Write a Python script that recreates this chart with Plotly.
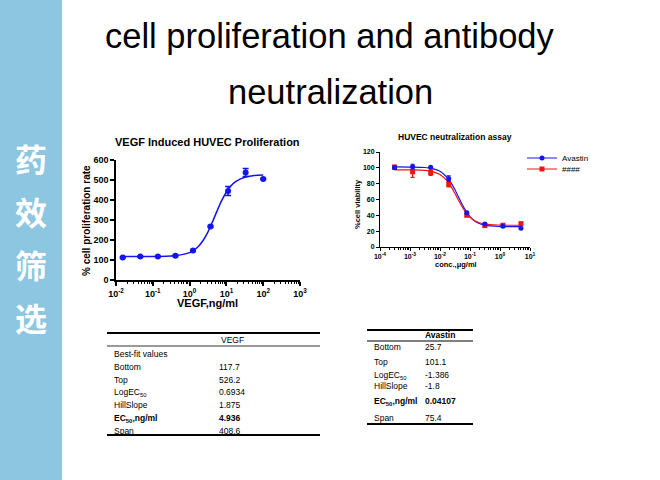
import plotly.graph_objects as go

W, H = 660, 480

# left chart: VEGF induced proliferation
vegf_conc = [100, 33.33, 11.11, 3.704, 1.235, 0.4115, 0.1372, 0.04572, 0.01524]
vegf_rate = [505, 538, 445, 268, 147, 121, 118, 117, 112]
vegf_err = [3, 20, 23, 4, 4, 3, 2, 2, 2]
vegf_fit_log = [-1.82, -1.0, -0.5, 0, 0.125, 0.25, 0.375, 0.5, 0.625, 0.75, 0.875,
                1.0, 1.125, 1.25, 1.5, 1.75, 2.0]
vegf_fit_rate = [118, 118, 120, 137, 150, 170, 200, 241, 292, 347, 398,
                 440, 471, 492, 514, 522, 525]

# right chart: neutralization assay
conc_ug = [5, 1.25, 0.3125, 0.07813, 0.01953, 0.004883, 0.001221, 0.0003052]
avastin = [23.6, 26.1, 29, 43.4, 86.3, 100.6, 101.5, 100.2]
avastin_err = [1, 1, 1.5, 1.5, 3.5, 1, 3, 1.5]
other = [29.5, 27.5, 27, 40, 79, 94, 95, 101]
other_err = [1.5, 1, 2, 1.5, 3, 3.5, 7, 2]
fit_log = [-3.5, -3, -2.5, -2.25, -2, -1.75, -1.625, -1.5, -1.375, -1.25,
           -1.125, -1, -0.875, -0.75, -0.5, 0, 0.7]
avastin_fit = [101.1, 101.0, 100.4, 99.0, 95.6, 87.5, 80.7, 72.2, 62.5, 53.0,
               44.8, 38.4, 33.8, 30.7, 27.6, 25.9, 25.7]
other_fit = [97.5, 97.4, 96.7, 95.2, 91.5, 82.8, 75.9, 67.5, 58.5, 50.0,
             42.9, 37.6, 33.9, 31.5, 29.0, 27.7, 27.5]

# tables
vegf_rows = ["Best-fit values", "Bottom", "Top", "LogEC<sub>50</sub>", "HillSlope",
             "<b>EC<sub>50</sub>,ng/ml</b>", "Span"]
vegf_vals = ["", "117.7", "526.2", "0.6934", "1.875", "<b>4.936</b>", "408.6"]
ava_rows = ["Bottom", "Top", "LogEC<sub>50</sub>", "HillSlope", "<b>EC<sub>50</sub>,ng/ml</b>", "Span"]
ava_vals = ["25.7", "101.1", "-1.386", "-1.8", "<b>0.04107</b>", "75.4"]

sidebar_chars = ["药", "效", "筛", "选"]

BLUE = "#1414F0"
RED = "#F01414"
SANS = "Liberation Sans, Arial"


def px(x, y):
    return x / W, 1 - y / H


fig = go.Figure()

# left chart
fig.add_trace(go.Scatter(x=[10 ** v for v in vegf_fit_log], y=vegf_fit_rate, mode="lines",
                         line=dict(color=BLUE, width=1.5, shape="spline"),
                         xaxis="x", yaxis="y", showlegend=False))
fig.add_trace(go.Scatter(x=vegf_conc, y=vegf_rate, mode="markers",
                         marker=dict(color=BLUE, size=6),
                         error_y=dict(array=vegf_err, color=BLUE, thickness=1.5, width=3),
                         xaxis="x", yaxis="y", showlegend=False))

# right chart
fig.add_trace(go.Scatter(x=[10 ** v for v in fit_log], y=avastin_fit, mode="lines",
                         line=dict(color=BLUE, width=1.2, shape="spline"),
                         xaxis="x2", yaxis="y2", showlegend=False))
fig.add_trace(go.Scatter(x=[10 ** v for v in fit_log], y=other_fit, mode="lines",
                         line=dict(color=RED, width=1.2, shape="spline"),
                         xaxis="x2", yaxis="y2", showlegend=False))
fig.add_trace(go.Scatter(x=conc_ug, y=other, mode="markers",
                         marker=dict(color=RED, size=5, symbol="square"),
                         error_y=dict(array=other_err, color=RED, thickness=1.2, width=2),
                         xaxis="x2", yaxis="y2", showlegend=False))
fig.add_trace(go.Scatter(x=conc_ug, y=avastin, mode="markers",
                         marker=dict(color=BLUE, size=5),
                         error_y=dict(array=avastin_err, color=BLUE, thickness=1.2, width=2),
                         xaxis="x2", yaxis="y2", showlegend=False))

# legend entries only (two legends so the rows sit close together)
fig.add_trace(go.Scatter(x=[None], y=[None], mode="lines+markers", name="Avastin",
                         line=dict(color=BLUE, width=1.2), marker=dict(color=BLUE, size=5),
                         xaxis="x2", yaxis="y2", legend="legend"))
fig.add_trace(go.Scatter(x=[None], y=[None], mode="lines+markers", name="####",
                         line=dict(color=RED, width=1.2),
                         marker=dict(color=RED, size=5, symbol="square"),
                         xaxis="x2", yaxis="y2", legend="legend2"))


def log_ticks(lo, hi):
    vals = [10.0 ** e for e in range(lo, hi + 1)]
    text = ["10<sup>%d</sup>" % e for e in range(lo, hi + 1)]
    minor = [k * 10.0 ** e for e in range(lo, hi) for k in range(2, 10)]
    return vals, text, minor


axis_common = dict(showline=True, linecolor="black", showgrid=False, zeroline=False,
                   ticks="outside", tickcolor="black", automargin=False)

xv, xt, xm = log_ticks(-2, 3)
fig.update_layout(
    xaxis=dict(axis_common, type="log", range=[-2, 3], domain=[116 / W, 300 / W],
               tickvals=xv, ticktext=xt, linewidth=1.5, tickwidth=1.5, ticklen=4,
               tickfont=dict(family=SANS, size=9, color="black", weight="bold"),
               minor=dict(tickvals=xm, ticks="outside", ticklen=2.5, tickwidth=1,
                          tickcolor="black"),
               anchor="y"),
    yaxis=dict(axis_common, range=[0, 600], dtick=100,
               domain=[1 - 280 / H, 1 - 160 / H], linewidth=1.5, tickwidth=1.5, ticklen=4,
               tickfont=dict(family=SANS, size=9, color="black", weight="bold"),
               anchor="x"),
)
xv2, xt2, xm2 = log_ticks(-4, 1)
fig.update_layout(
    xaxis2=dict(axis_common, type="log", range=[-4, 1], domain=[380 / W, 530 / W],
                tickvals=xv2, ticktext=xt2, linewidth=1, tickwidth=1, ticklen=3,
                tickfont=dict(family=SANS, size=7, color="black", weight="bold"),
                minor=dict(tickvals=xm2, ticks="outside", ticklen=2, tickwidth=0.8,
                           tickcolor="black"),
                anchor="y2"),
    yaxis2=dict(axis_common, range=[0, 120], dtick=20,
                domain=[1 - 247 / H, 1 - 152 / H], linewidth=1, tickwidth=1, ticklen=3,
                tickfont=dict(family=SANS, size=7, color="black", weight="bold"),
                anchor="x2"),
)

shapes = [
    # blue sidebar
    dict(type="rect", xref="paper", yref="paper", x0=0, x1=62 / W, y0=0, y1=1,
         fillcolor="#8CC6E0", line=dict(width=0), layer="below"),
    # VEGF table rules
    dict(type="line", xref="paper", yref="paper", x0=107 / W, x1=320 / W,
         y0=px(0, 333)[1], y1=px(0, 333)[1], line=dict(color="black", width=2)),
    dict(type="line", xref="paper", yref="paper", x0=107 / W, x1=320 / W,
         y0=px(0, 346)[1], y1=px(0, 346)[1], line=dict(color="black", width=0.8)),
    dict(type="line", xref="paper", yref="paper", x0=107 / W, x1=320 / W,
         y0=px(0, 435)[1], y1=px(0, 435)[1], line=dict(color="black", width=2)),
    # Avastin table rules
    dict(type="line", xref="paper", yref="paper", x0=367 / W, x1=473 / W,
         y0=px(0, 330)[1], y1=px(0, 330)[1], line=dict(color="black", width=2)),
    dict(type="line", xref="paper", yref="paper", x0=367 / W, x1=473 / W,
         y0=px(0, 341)[1], y1=px(0, 341)[1], line=dict(color="black", width=1.2)),
    dict(type="line", xref="paper", yref="paper", x0=367 / W, x1=473 / W,
         y0=px(0, 424)[1], y1=px(0, 424)[1], line=dict(color="black", width=2)),
]

ann = []


def text(x, y, s, size, family=SANS, bold=False, color="black", xanchor="center", angle=0):
    xp, yp = px(x, y)
    ann.append(dict(x=xp, y=yp, xref="paper", yref="paper", text=s, showarrow=False,
                    xanchor=xanchor, yanchor="middle", textangle=angle,
                    font=dict(family=family, size=size, color=color,
                              weight="bold" if bold else "normal")))


# slide title
text(330, 36, "cell proliferation and antibody", 34.5)
text(330, 92, "neutralization", 34.5)

# sidebar characters
for i, ch in enumerate(sidebar_chars):
    text(31, 158 + i * 53, ch, 32, family="Noto Sans CJK SC", bold=True, color="white")

# left chart texts
text(207, 142, "VEGF Induced HUVEC Proliferation", 11, bold=True)
text(87, 220, "% cell proliferation rate", 10, bold=True, angle=-90)
text(208, 303, "VEGF,ng/ml", 11, bold=True)

# right chart texts
text(455, 137, "HUVEC neutralization assay", 8.5, bold=True)
text(357, 204, "%cell viability", 7.5, bold=True, angle=-90)
text(456, 264, "conc.,μg/ml", 7.5, bold=True)

# VEGF table
text(232, 340, "VEGF", 8.5)
for i, (r, v) in enumerate(zip(vegf_rows, vegf_vals)):
    y = 354 + i * 12.8
    text(112, y, r, 8.5, xanchor="left")
    text(217, y, v, 8.5, xanchor="left")

# Avastin table
text(423, 335, "<b>Avastin</b>", 8.5, xanchor="left")
ava_y = [347, 362, 375, 386, 401, 418]
for r, v, y in zip(ava_rows, ava_vals, ava_y):
    text(372, y, r, 8.5, xanchor="left")
    text(423, y, v, 8.5, xanchor="left")

legend_style = dict(xanchor="left", yanchor="middle", bgcolor="rgba(0,0,0,0)",
                    font=dict(family=SANS, size=8, color="black"),
                    itemwidth=30, borderwidth=0)

fig.update_layout(
    width=W, height=H, margin=dict(l=0, r=0, t=0, b=0, pad=0, autoexpand=False),
    paper_bgcolor="white", plot_bgcolor="white",
    shapes=shapes, annotations=ann,
    legend=dict(legend_style, x=522 / W, y=1 - 158 / H),
    legend2=dict(legend_style, x=522 / W, y=1 - 169 / H),
)

fig.write_html(
    "out.html",
    config={"displayModeBar": False},
    post_script=("document.body.style.margin='0';document.body.style.overflow='hidden';"
                 "var d=document.getElementById('{plot_id}');"
                 "d.style.position='absolute';d.style.left='0px';d.style.top='0px';"),
)
